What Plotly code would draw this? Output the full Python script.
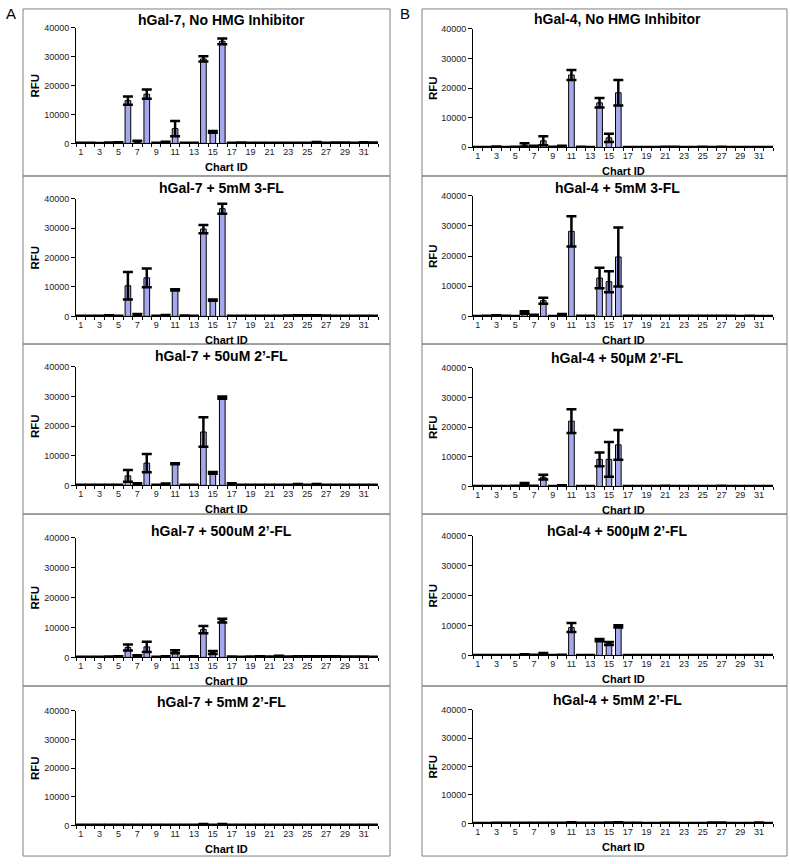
import plotly.graph_objects as go

W, H = 790, 864

CHART_IDS = list(range(1, 33))
X_TICK_VALUES = list(range(1, 32, 2))
X_TICK_LABELS = [str(v) for v in X_TICK_VALUES]
Y_TICK_VALUES = [0, 10000, 20000, 30000, 40000]

TITLES_A = ["hGal-7, No HMG Inhibitor", "hGal-7 + 5mM 3-FL", "hGal-7 + 50uM 2\u2019-FL",
            "hGal-7 + 500uM 2\u2019-FL", "hGal-7 + 5mM 2\u2019-FL"]
TITLES_B = ["hGal-4, No HMG Inhibitor", "hGal-4 + 5mM 3-FL", "hGal-4 + 50\u00b5M 2\u2019-FL",
            "hGal-4 + 500\u00b5M 2\u2019-FL", "hGal-4 + 5mM 2\u2019-FL"]

# ---- hGal-7 (column A) ----
gal7_none = [150,150,120,250,350,14800,400,17000,150,450,5100,200,200,29200,4000,35300,
             150,250,150,150,150,150,200,150,200,400,200,250,250,200,350,250]
gal7_none_err = [50,50,50,80,80,1400,500,1600,50,100,2600,50,50,900,300,1000,
                 50,50,50,50,50,50,50,50,50,80,50,50,50,50,80,50]
gal7_3fl = [150,150,150,300,150,10400,500,13100,150,400,9000,250,150,29700,5500,36600,
            150,150,150,150,150,150,200,300,300,300,200,150,150,150,150,150]
gal7_3fl_err = [50,50,50,80,50,4700,300,3200,50,100,200,50,50,1400,200,1700,
                50,50,50,50,50,50,50,80,80,80,50,50,50,50,50,50]
gal7_50uM = [150,150,200,150,200,3200,500,7500,150,500,7300,200,200,18000,4200,29600,
             600,150,200,200,200,150,150,400,150,400,200,150,150,150,150,150]
gal7_50uM_err = [50,50,50,50,50,2000,200,3100,50,100,200,50,50,5000,300,400,
                 100,50,50,50,50,50,50,80,50,80,50,50,50,50,50,50]
gal7_500uM = [150,150,150,200,300,3300,600,3500,150,300,1900,200,300,9300,1600,12300,
              200,150,200,300,200,500,200,300,300,300,300,300,200,200,200,150]
gal7_500uM_err = [50,50,50,50,50,1000,100,1700,50,50,500,50,50,1200,500,600,
                  50,50,50,50,50,80,50,50,50,50,50,50,50,50,50,50]
gal7_5mM2 = [150,150,150,150,150,150,150,150,150,150,150,150,200,400,200,400,
             200,150,150,150,150,150,150,150,150,150,150,150,150,150,150,150]
gal7_5mM2_err = [50] * 32

# ---- hGal-4 (column B) ----
gal4_none = [100,100,200,100,150,800,400,2200,150,400,24400,150,100,15000,3200,18400,
             100,100,100,100,150,150,100,100,150,100,150,100,100,100,100,100]
gal4_none_err = [50,50,50,50,50,600,100,1500,50,100,1700,50,50,1600,1400,4300,
                 50,50,50,50,50,50,50,50,50,50,50,50,50,50,50,50]
gal4_3fl = [100,150,300,150,100,1300,400,5200,100,600,28200,150,150,12700,11500,19700,
            150,150,150,150,150,150,150,150,150,150,150,150,100,150,100,100]
gal4_3fl_err = [50,50,50,50,50,400,100,1000,50,200,5000,50,50,3400,3500,9800,
                50,50,50,50,50,50,50,50,50,50,50,50,50,50,50,50]
gal4_50uM = [100,100,100,100,150,700,150,3100,100,300,22000,100,100,9100,9100,14000,
             100,100,100,100,150,100,100,100,100,100,150,100,100,100,100,100]
gal4_50uM_err = [50,50,50,50,50,400,50,800,50,50,4000,50,50,2300,5900,5000,
                 50,50,50,50,50,50,50,50,50,50,50,50,50,50,50,50]
gal4_500uM = [100,100,100,100,100,300,150,500,100,150,9300,100,100,5100,4000,9700,
              100,100,100,100,100,100,100,100,100,100,100,100,100,100,100,100]
gal4_500uM_err = [50,50,50,50,50,50,50,300,50,50,1500,50,50,400,500,400,
                  50,50,50,50,50,50,50,50,50,50,50,50,50,50,50,50]
gal4_5mM2 = [100,100,150,150,150,200,150,200,200,200,400,200,200,200,300,400,
             200,200,100,100,200,200,100,100,100,250,300,100,100,100,300,100]
gal4_5mM2_err = [50] * 32

SERIES_A = [(gal7_none, gal7_none_err), (gal7_3fl, gal7_3fl_err), (gal7_50uM, gal7_50uM_err),
            (gal7_500uM, gal7_500uM_err), (gal7_5mM2, gal7_5mM2_err)]
SERIES_B = [(gal4_none, gal4_none_err), (gal4_3fl, gal4_3fl_err), (gal4_50uM, gal4_50uM_err),
            (gal4_500uM, gal4_500uM_err), (gal4_5mM2, gal4_5mM2_err)]

# ---- layout geometry (pixels) ----
COL_PLOT_X = [(76, 378), (473, 773)]
COL_BOX_X = [(23, 390), (422, 787)]
ROW_BOX_Y = [4, 173, 343, 515, 689, 861]
PLOT_Y = [[(23, 140), (196, 315), (366, 486), (539, 660), (714, 830)],
          [(24, 144), (193, 315), (367, 487), (537, 658), (713, 828)]]
TITLE_Y = [[15, 185, 355, 532, 705], [14, 185, 357, 532, 703]]
TITLE_X = [221, 617]
RFU_X = [35, 433]

FONT = "Arial, Liberation Sans, sans-serif"
BAR_FILL = "#A3A9EC"

fig = go.Figure()
annotations = []
shapes = []

def px_x(v):
    return v / W

def px_y(v):
    return 1 - v / H

idx = 0
for c, (titles, series) in enumerate([(TITLES_A, SERIES_A), (TITLES_B, SERIES_B)]):
    for r in range(5):
        idx += 1
        sfx = "" if idx == 1 else str(idx)
        vals, errs = series[r]
        fig.add_trace(go.Bar(
            x=CHART_IDS, y=vals, width=0.6,
            marker=dict(color=BAR_FILL, line=dict(color="#000000", width=1)),
            error_y=dict(type="data", array=errs, visible=True, color="#000000",
                         thickness=2.5, width=5),
            xaxis="x" + sfx, yaxis="y" + sfx, showlegend=False,
        ))
        x0, x1 = COL_PLOT_X[c]
        yt, yb = PLOT_Y[c][r]
        fig.layout["xaxis" + sfx] = dict(
            domain=[px_x(x0), px_x(x1)], anchor="y" + sfx, range=[0.5, 32.5],
            tickmode="array", tickvals=X_TICK_VALUES, ticktext=X_TICK_LABELS,
            ticks="outside", ticklen=0, showline=True, linecolor="#000000", linewidth=1,
            showgrid=False, zeroline=False,
            tickfont=dict(family=FONT, size=9, color="#222222"),
            minor=dict(tickmode="array", tickvals=[i + 0.5 for i in range(33)],
                       ticks="outside", ticklen=3, tickcolor="#000000", showgrid=False),
            fixedrange=True,
        )
        fig.layout["yaxis" + sfx] = dict(
            domain=[px_y(yb), px_y(yt)], anchor="x" + sfx, range=[0, 40000],
            tickmode="array", tickvals=Y_TICK_VALUES, tickformat="d",
            ticks="outside", ticklen=4, tickcolor="#000000",
            showline=True, linecolor="#000000", linewidth=1,
            showgrid=False, zeroline=False,
            tickfont=dict(family=FONT, size=9, color="#222222"),
            fixedrange=True,
        )
        annotations.append(dict(text="<b>%s</b>" % titles[r], x=px_x(TITLE_X[c]), y=px_y(TITLE_Y[c][r]),
                                xref="paper", yref="paper", xanchor="center", yanchor="middle",
                                showarrow=False, font=dict(family=FONT, size=14, color="#000000")))
        annotations.append(dict(text="<b>RFU</b>", x=px_x(RFU_X[c]), y=px_y((yt + yb) / 2),
                                xref="paper", yref="paper", xanchor="center", yanchor="middle",
                                textangle=-90, showarrow=False,
                                font=dict(family=FONT, size=11.5, color="#000000")))
        annotations.append(dict(text="<b>Chart ID</b>", x=px_x((x0 + x1) / 2), y=px_y(yb + 24),
                                xref="paper", yref="paper", xanchor="center", yanchor="middle",
                                showarrow=False, font=dict(family=FONT, size=11, color="#000000")))
        bx0, bx1 = COL_BOX_X[c]
        shapes.append(dict(type="rect", xref="paper", yref="paper",
                           x0=px_x(bx0), x1=px_x(bx1), y0=px_y(ROW_BOX_Y[r + 1]), y1=px_y(ROW_BOX_Y[r]),
                           line=dict(color="#808080", width=1)))

annotations.append(dict(text="A", x=px_x(11), y=px_y(9), xref="paper", yref="paper",
                        xanchor="center", yanchor="middle", showarrow=False,
                        font=dict(family=FONT, size=15, color="#000000")))
annotations.append(dict(text="B", x=px_x(405), y=px_y(9), xref="paper", yref="paper",
                        xanchor="center", yanchor="middle", showarrow=False,
                        font=dict(family=FONT, size=15, color="#000000")))

fig.update_layout(
    width=W, height=H, margin=dict(l=0, r=0, t=0, b=0),
    paper_bgcolor="#FFFFFF", plot_bgcolor="#FFFFFF",
    annotations=annotations, shapes=shapes, bargap=0.4, showlegend=False,
)

fig.write_html("out.html", config={"displayModeBar": False},
               post_script="document.body.style.margin='0';document.body.style.overflow='hidden';")
